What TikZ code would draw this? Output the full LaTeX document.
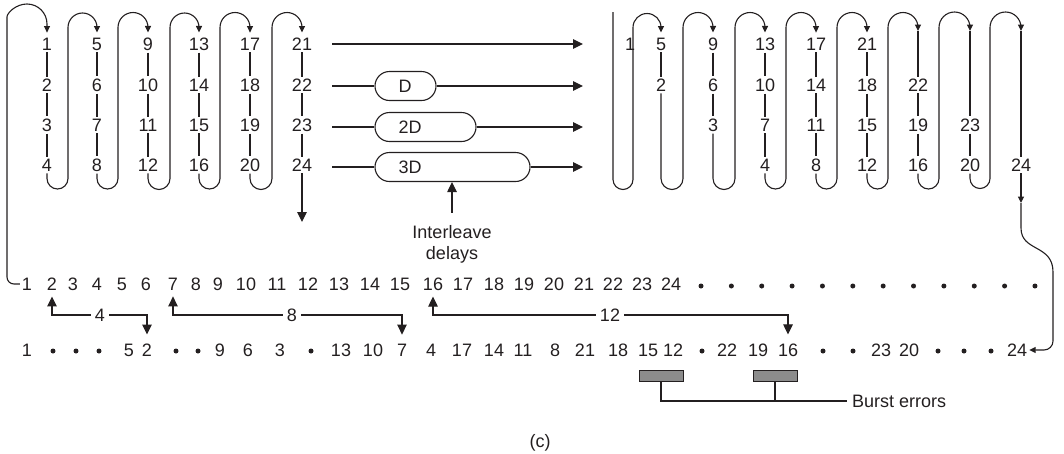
\documentclass[tikz,border=0pt]{standalone}
\usepackage{fontspec}
\setmainfont{Liberation Sans}
\usetikzlibrary{arrows.meta}
\definecolor{ink}{HTML}{231F20}
\definecolor{burstgray}{HTML}{8C8C8C}
\begin{document}
\begin{tikzpicture}[x=1pt,y=-1pt,
  every node/.style={font=\fontsize{18}{21}\selectfont, text=ink},
  num/.style={inner sep=2pt},
  dot/.style={circle, fill=ink, inner sep=0pt, minimum size=5pt},
  line/.style={draw=ink, line width=1.1pt},
  smallarr/.style={line, -{Triangle[length=6.5pt,width=6pt]}},
  bigarr/.style={line, -{Triangle[length=10pt,width=9.5pt]}},
  delay/.style={draw=ink, line width=1.1pt, rounded corners=14.5pt, minimum height=29pt, inner sep=0pt},
  burst/.style={draw=ink, fill=burstgray, line width=1pt, minimum width=44pt, minimum height=11pt, inner sep=0pt},
  lbl/.style={inner xsep=4pt, inner ysep=1pt}]
\useasboundingbox (0,0) rectangle (1064,453);

% ---------- left interleaver numbers ----------
\foreach \c/\xx in {1/47,2/97,3/148,4/199,5/250,6/302} {
  \foreach \r/\yy in {1/44,2/85,3/125,4/165} {
    \pgfmathtruncatemacro\n{4*(\c-1)+\r}
    \node[num] (L\n) at (\xx,\yy) {\n};
  }
}
\foreach \c in {0,...,5} {
  \foreach \r in {1,2,3} {
    \pgfmathtruncatemacro\a{4*\c+\r}
    \pgfmathtruncatemacro\b{\a+1}
    \draw[line] (L\a.south) -- (L\b.north);
  }
}
\foreach \c/\xx/\rr/\xn in {1/47/68/97,2/97/118/148,3/148/170/199,4/199/220/250,5/250/272/302} {
  \pgfmathtruncatemacro\a{4*\c}
  \pgfmathtruncatemacro\b{4*\c+1}
  \pgfmathsetmacro\ra{(\rr-\xx)/2}
  \pgfmathsetmacro\rb{(\xn-\rr)/2}
  \draw[smallarr, shorten >=3pt] (L\a.south) -- (\xx,178.5) arc[start angle=180,end angle=360,radius=\ra pt]
     -- (\rr,27.5) arc[start angle=180,end angle=0,radius=\rb pt] -- (L\b.north);
}
\coordinate (ldown) at (302,222);
\draw[bigarr] (L24.south) -- (ldown);

% ---------- sequence row ----------
\foreach \n/\xx in {1/27,2/52,3/73,4/97,5/122,6/146,7/173,8/196,9/218,10/246,11/277,12/308,13/339,14/370,15/400,16/433,17/463,18/494,19/524,20/554,21/584,22/613,23/642,24/671}
  \node[num] (S\n) at (\xx,284) {\n};
\foreach \k in {0,...,11}
  \node[dot] (Sd\k) at ({701+30.36*\k},286) {};

% left feed line into column 1
\draw[smallarr, shorten >=3pt, rounded corners=7pt] (S1.west) -| (7,24) [sharp corners]
   arc[start angle=180,end angle=0,radius=20pt] -- (L1.north);

% ---------- middle delay lines ----------
\coordinate (i1) at (332,44);  \coordinate (o1) at (583,44);
\coordinate (i2) at (332,86);  \coordinate (o2) at (583,86);
\coordinate (i3) at (332,127); \coordinate (o3) at (583,127);
\coordinate (i4) at (332,167); \coordinate (o4) at (583,167);
\node[delay, minimum width=61pt] (D1) at (405.5,86) {};
\node[delay, minimum width=101pt] (D2) at (425.5,127) {};
\node[delay, minimum width=155pt] (D3) at (452.5,167) {};
\node (D1t) at (405,86) {D};
\node (D2t) at (410,127) {2D};
\node (D3t) at (410,167) {3D};
\draw[bigarr] (i1) -- (o1);
\draw[line] (i2) -- (D1.west); \draw[bigarr] (D1.east) -- (o2);
\draw[line] (i3) -- (D2.west); \draw[bigarr] (D2.east) -- (o3);
\draw[line] (i4) -- (D3.west); \draw[bigarr] (D3.east) -- (o4);
\node[align=center, inner sep=0pt] (ID) at (452,244) {Interleave\\delays};
\draw[bigarr, shorten <=12pt] (ID.north) -- (ID.north |- D3.south);

% ---------- right deinterleaver ----------
\node[num] (R1) at (630,44) {1};
\foreach \n/\xx/\yy in {5/661/44,2/661/85,9/713/44,6/713/85,3/713/125,
   13/765/44,10/765/85,7/765/125,4/765/165,17/816/44,14/816/85,11/816/125,8/816/165,
   21/867/44,18/867/85,15/867/125,12/867/165,22/918/85,19/918/125,16/918/165,
   23/970/125,20/970/165,24/1021/165}
  \node[num] (R\n) at (\xx,\yy) {\n};
\foreach \a/\b in {5/2,9/6,6/3,13/10,10/7,7/4,17/14,14/11,11/8,21/18,18/15,15/12,22/19,19/16,23/20}
  \draw[line] (R\a.south) -- (R\b.north);
\coordinate (rtop) at (613,12);
\draw[smallarr, shorten >=3pt] (rtop) -- (613,179.5) arc[start angle=180,end angle=360,radius=10pt]
   -- (633,27.5) arc[start angle=180,end angle=0,radius=14pt] -- (R5.north);
\foreach \a/\xx/\rr/\xn/\b in {2/661/683/713/9,3/713/735/765/13,4/765/786/816/17,8/816/837/867/21} {
  \pgfmathsetmacro\ra{(\rr-\xx)/2}
  \pgfmathsetmacro\rb{(\xn-\rr)/2}
  \draw[smallarr, shorten >=3pt] (R\a.south) -- (\xx,178.5) arc[start angle=180,end angle=360,radius=\ra pt]
     -- (\rr,27.5) arc[start angle=180,end angle=0,radius=\rb pt] -- (R\b.north);
}
\coordinate (t22) at (918,31);
\coordinate (t23) at (970,31);
\coordinate (t24) at (1021,31);
\foreach \a/\xx/\rr/\xn/\b in {12/867/888/918/22,16/918/939/970/23,20/970/990/1021/24} {
  \pgfmathsetmacro\ra{(\rr-\xx)/2}
  \pgfmathsetmacro\rb{(\xn-\rr)/2}
  \draw[smallarr] (R\a.south) -- (\xx,178.5) arc[start angle=180,end angle=360,radius=\ra pt]
     -- (\rr,27.5) arc[start angle=180,end angle=0,radius=\rb pt] -- (t\b);
  \draw[line] (t\b) -- (R\b.north);
}

% ---------- bottom (interleaved) row ----------
\foreach \n/\xx in {1/27,5/129,2/147,9/220,6/248,3/280,13/341,10/373,7/402,4/431,17/462,14/494,11/523,8/555,21/585,18/618,15/648,12/673,22/727,19/758,16/788,23/881,20/909,24/1017}
  \node[num] (B\n) at (\xx,350) {\n};
\foreach \k/\xx in {1/53,2/76,3/99,4/176,5/198,6/311,7/702,8/823,9/853,10/938,11/964,12/991}
  \node[dot] (Bd\k) at (\xx,351) {};

% feed from right deinterleaver to output 24
\coordinate (m24) at (1021,203);
\draw[smallarr] (R24.south) -- (m24);
\draw[smallarr] (m24) -- (1021,228) .. controls (1021,252) and (1053,244) .. (1053,272)
   [rounded corners=9pt] -- (1053,350) -- (B24.east);

% ---------- delay brackets ----------
\node[lbl] (b4) at (100,315) {4};
\draw[bigarr, shorten >=4pt] (b4.west) -| (S2.south);
\draw[bigarr, shorten >=7pt] (b4.east) -| (B2.north);
\node[lbl] (b8) at (292,315) {8};
\draw[bigarr, shorten >=4pt] (b8.west) -| (S7.south);
\draw[bigarr, shorten >=7pt] (b8.east) -| (B7.north);
\node[lbl] (b12) at (610,315) {12};
\draw[bigarr, shorten >=4pt] (b12.west) -| (S16.south);
\draw[bigarr, shorten >=7pt] (b12.east) -| (B16.north);

% ---------- burst errors ----------
\node[burst] (E1) at (661,375.5) {};
\node[burst] (E2) at (775,375.5) {};
\node[anchor=west, inner xsep=5pt, inner ysep=0pt] (BE) at (847,401) {Burst errors};
\draw[line] (E1.south) |- (BE.west);
\draw[line] (E2.south) -- (E2.south |- BE.west);

\node (cap) at (540,443) {(c)};
\end{tikzpicture}
\end{document}
